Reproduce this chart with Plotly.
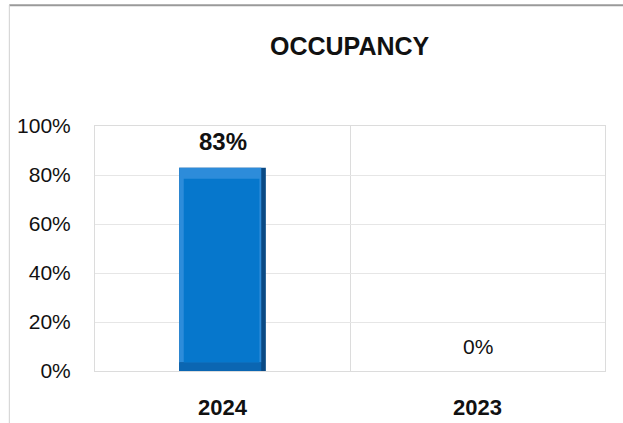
import plotly.graph_objects as go

categories = ["2024", "2023"]
occupancy = [0.83, 0.0]
label_text = ["83%", "0%"]
label_bold = [True, False]
y_ticks = [0, 0.2, 0.4, 0.6, 0.8, 1.0]
y_tick_labels = ["0%", "20%", "40%", "60%", "80%", "100%"]

xpos = list(range(len(categories)))
FONT = "Liberation Sans, Arial, sans-serif"

# bevel styling constants (axis units)
BAR_W = 0.34
SIDE = 0.018     # side bevel width
TOP_B = 0.045    # top bevel height
BOT_B = 0.035    # bottom bevel height

fig = go.Figure()
# dark outer body (shows as right edge)
fig.add_trace(go.Bar(
    x=xpos, y=occupancy, width=BAR_W, offset=-BAR_W / 2,
    marker=dict(color="#0A4A85", line=dict(width=0)), hoverinfo="skip",
))
# light bevel (top + left)
fig.add_trace(go.Bar(
    x=xpos, y=[max(v - BOT_B, 0) for v in occupancy],
    base=[BOT_B if v > BOT_B else 0 for v in occupancy],
    width=BAR_W - SIDE, offset=-BAR_W / 2,
    marker=dict(color="#2D8CDA", line=dict(width=0)), hoverinfo="skip",
))
# bottom bevel
fig.add_trace(go.Bar(
    x=xpos, y=[BOT_B if v > BOT_B else 0 for v in occupancy],
    width=BAR_W - SIDE, offset=-BAR_W / 2,
    marker=dict(color="#0B66B2", line=dict(width=0)), hoverinfo="skip",
))
# face
fig.add_trace(go.Bar(
    x=xpos, y=[max(v - TOP_B - BOT_B, 0) for v in occupancy],
    base=[BOT_B if v > TOP_B + BOT_B else 0 for v in occupancy],
    width=BAR_W - 2.4 * SIDE, offset=-BAR_W / 2 + SIDE,
    marker=dict(color="#0677CC", line=dict(width=0)), hoverinfo="skip",
))

annotations = []
for x, y, t, b in zip(xpos, occupancy, label_text, label_bold):
    annotations.append(dict(
        x=x, y=y, xref="x", yref="y", text=f"<b>{t}</b>" if b else t,
        showarrow=False, yanchor="bottom", yshift=11,
        font=dict(family=FONT, size=24 if b else 21, color="#111"),
    ))
annotations.append(dict(
    x=0.5, y=1, xref="paper", yref="paper", yanchor="bottom", yshift=64,
    text="<b>OCCUPANCY</b>", showarrow=False,
    font=dict(family=FONT, size=25, color="#111"),
))

fig.update_layout(
    width=623, height=423,
    margin=dict(l=95, r=18, t=126, b=52),
    paper_bgcolor="white", plot_bgcolor="white",
    showlegend=False, barmode="overlay",
    annotations=annotations,
    shapes=[
        dict(type="line", xref="paper", yref="paper", x0=-0.168, x1=1.04,
             y0=1.493, y1=1.493, line=dict(color="#9A9A9A", width=2)),
        dict(type="line", xref="paper", yref="paper", x0=-0.168, x1=-0.168,
             y0=1.493, y1=-0.25, line=dict(color="#D0D0D0", width=1)),
    ],
)
fig.update_xaxes(
    range=[-0.5, 1.5], tickvals=xpos, automargin=False,
    ticktext=[f"<b>{c}</b>" for c in categories],
    tickfont=dict(family=FONT, size=22, color="#111"),
    showgrid=False, zeroline=False,
    ticks="outside", ticklen=17, tickcolor="rgba(0,0,0,0)",
    showline=True, mirror=True, linecolor="#DCDCDC", linewidth=1,
    minor=dict(tickvals=[0.5], showgrid=True, gridcolor="#DCDCDC", gridwidth=1),
)
fig.update_yaxes(
    range=[0, 1], tickvals=y_ticks, ticktext=y_tick_labels, automargin=False,
    tickfont=dict(family=FONT, size=21, color="#111"),
    showgrid=True, gridcolor="#E6E6E6", gridwidth=1, zeroline=False,
    ticks="outside", ticklen=19, tickcolor="rgba(0,0,0,0)",
    showline=True, mirror=True, linecolor="#DCDCDC", linewidth=1,
)

fig.write_html("out.html", config={"displayModeBar": False},
               post_script="document.body.style.margin='0px';")
